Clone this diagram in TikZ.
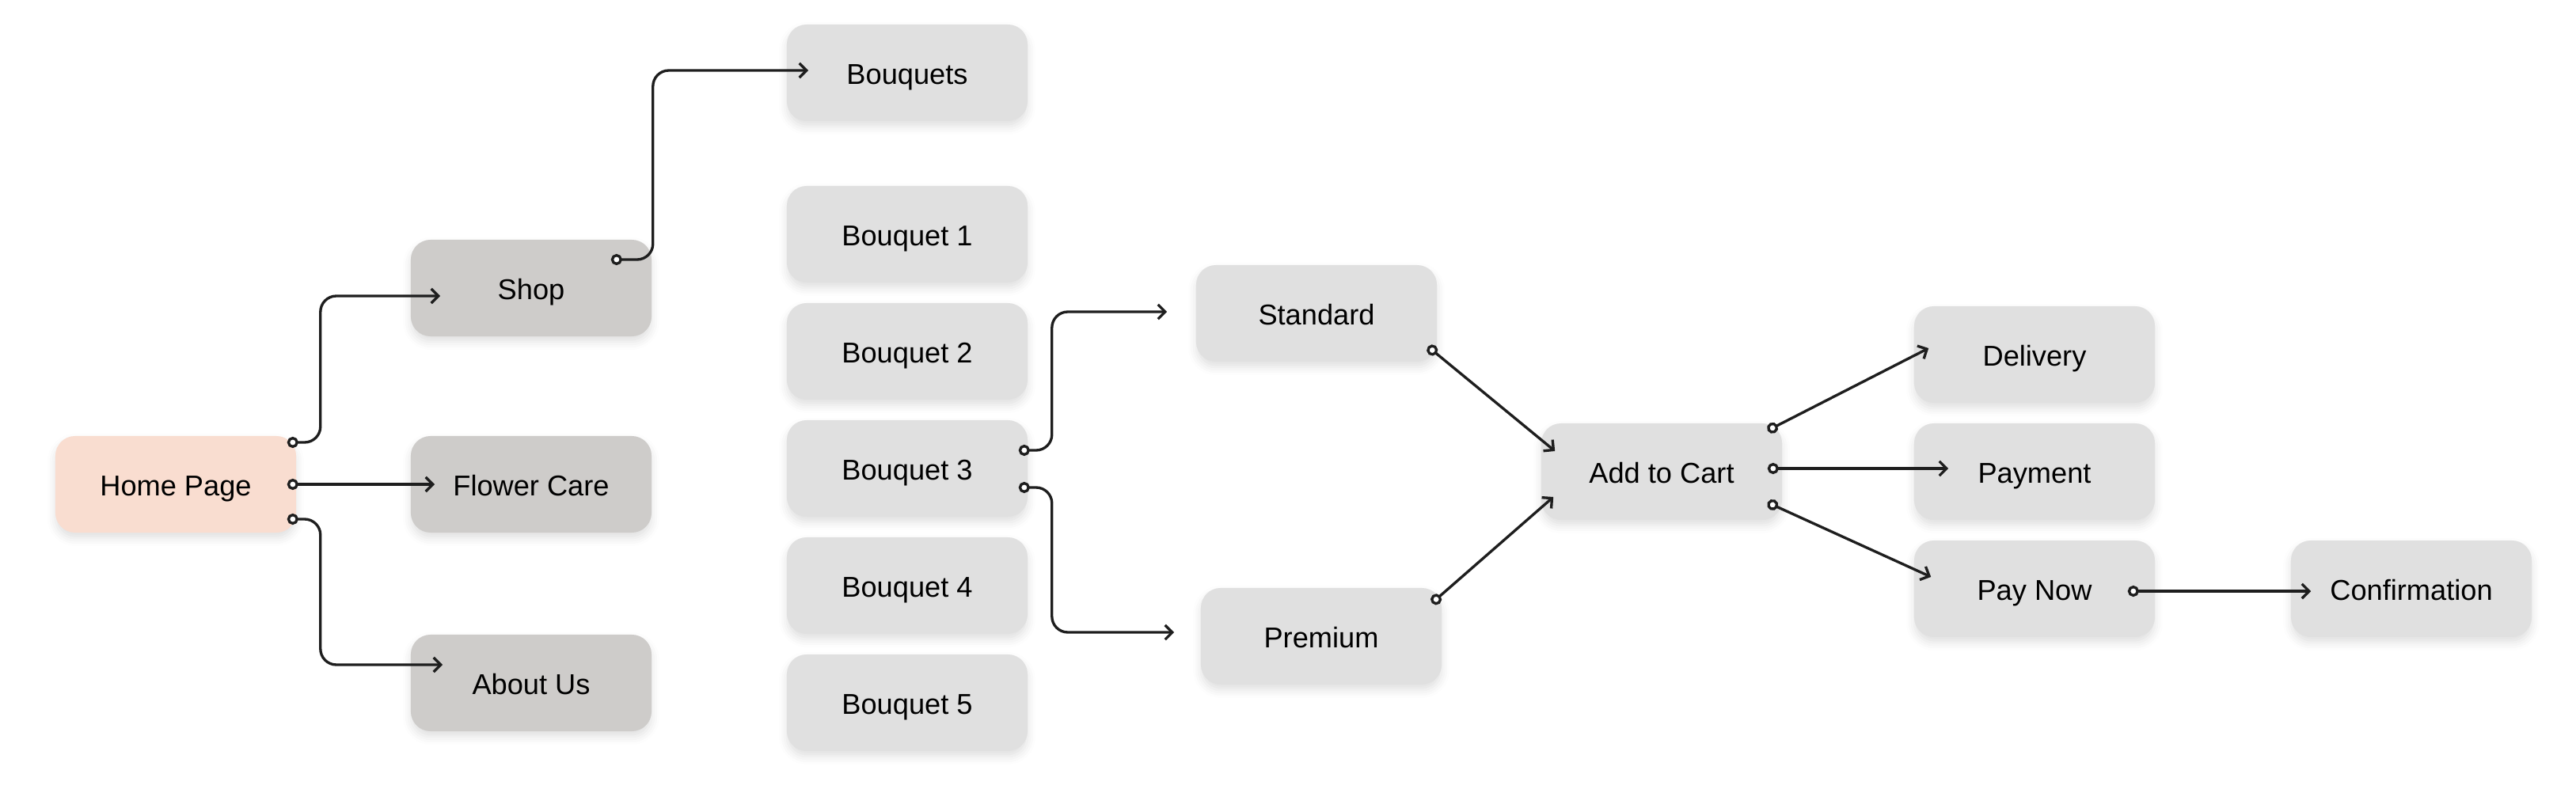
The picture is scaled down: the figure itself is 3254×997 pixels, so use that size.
\documentclass[tikz,border=0pt]{standalone}
\usepackage{fontspec}
\setmainfont{Liberation Sans}
\usetikzlibrary{arrows.meta,calc,shadows.blur}
\definecolor{peach}{HTML}{F9DDD0}
\definecolor{greyA}{HTML}{CECCCA}
\definecolor{greyB}{HTML}{E0E0E0}
\definecolor{ink}{HTML}{1E1E1E}
\begin{document}
\begin{tikzpicture}[x=0.01cm,y=-0.01cm,
  box/.style={rectangle, rounded corners=0.25cm, minimum width=3.04cm, minimum height=1.22cm, inner sep=0pt,
    font=\fontsize{10.3}{12}\selectfont, text=black, text height=8.2pt, text depth=0pt,
    blur shadow={shadow xshift=0pt, shadow yshift=-0.07cm, shadow blur radius=0.1cm, shadow opacity=12}},
  homebox/.style={box, fill=peach},
  navbox/.style={box, fill=greyA},
  itembox/.style={box, fill=greyB},
  link/.style={draw=ink, line width=0.95pt, {Circle[fill=white,length=4pt]}-{Straight Barb[length=2.6pt,width=5.2pt]}},
  elbow/.style={link, rounded corners=0.2cm}]
\useasboundingbox (0,0) rectangle (3254,997);
% nodes
\node[homebox] (home) at (222,612) {Home Page};
\node[navbox] (shop) at (671,364) {Shop};
\node[navbox] (care) at (671,612) {Flower Care};
\node[navbox] (about) at (671,863) {About Us};
\node[itembox] (bqs) at (1146,92) {Bouquets};
\node[itembox] (b1) at (1146,296) {Bouquet 1};
\node[itembox] (b2) at (1146,444) {Bouquet 2};
\node[itembox] (b3) at (1146,592) {Bouquet 3};
\node[itembox] (b4) at (1146,740) {Bouquet 4};
\node[itembox] (b5) at (1146,888) {Bouquet 5};
\node[itembox] (std) at (1663,396) {Standard};
\node[itembox] (prem) at (1669,804) {Premium};
\node[itembox] (cart) at (2099,596) {Add to Cart};
\node[itembox] (deliv) at (2570,448) {Delivery};
\node[itembox] (pay) at (2570,596) {Payment};
\node[itembox] (paynow) at (2570,744) {Pay Now};
\node[itembox] (conf) at (3046,744) {Confirmation};
% ports
\coordinate (h1) at ($(home.east)+(-12,-53)$);
\coordinate (h2) at ($(home.east)+(-12,0)$);
\coordinate (h3) at ($(home.east)+(-12,44)$);
\coordinate (shopin) at ($(shop.west)+(38,10)$);
\coordinate (carein) at ($(care.west)+(31,0)$);
\coordinate (aboutin) at ($(about.west)+(41,-23)$);
\coordinate (shopout) at ($(shop.east)+(-52,-36)$);
\coordinate (bqsin) at ($(bqs.west)+(28,-3)$);
\coordinate (b3a) at ($(b3.east)+(-12,-23)$);
\coordinate (b3b) at ($(b3.east)+(-12,24)$);
\coordinate (stdin) at ($(std.west)+(-36,-2)$);
\coordinate (premin) at ($(prem.west)+(-33,-5)$);
\coordinate (stdout) at ($(std.east)+(-12,42)$);
\coordinate (premout) at ($(prem.east)+(-13,-42)$);
\coordinate (cartin1) at ($(cart.west)+(18,-26)$);
\coordinate (cartin2) at ($(cart.west)+(16,32)$);
\coordinate (c1) at ($(cart.east)+(-19,-52)$);
\coordinate (c2) at ($(cart.east)+(-19,-4)$);
\coordinate (c3) at ($(cart.east)+(-19,39)$);
\coordinate (delivin) at ($(deliv.west)+(19,-8)$);
\coordinate (payin) at ($(pay.west)+(44,-4)$);
\coordinate (paynowin) at ($(paynow.west)+(22,-15)$);
\coordinate (pnout) at ($(paynow.east)+(-35,3)$);
\coordinate (confin) at ($(conf.west)+(26,3)$);
% connectors
\draw[elbow] (h1) -- ++(42,0) |- (shopin);
\draw[link] (h2) -- (carein);
\draw[elbow] (h3) -- ++(42,0) |- (aboutin);
\draw[elbow] (shopout) -- ++(53,0) |- (bqsin);
\draw[elbow] (b3a) -- ++(42,0) |- (stdin);
\draw[elbow] (b3b) -- ++(42,0) |- (premin);
\draw[link] (stdout) -- (cartin1);
\draw[link] (premout) -- (cartin2);
\draw[link] (c1) -- (delivin);
\draw[link] (c2) -- (payin);
\draw[link] (c3) -- (paynowin);
\draw[link] (pnout) -- (confin);
\end{tikzpicture}
\end{document}
